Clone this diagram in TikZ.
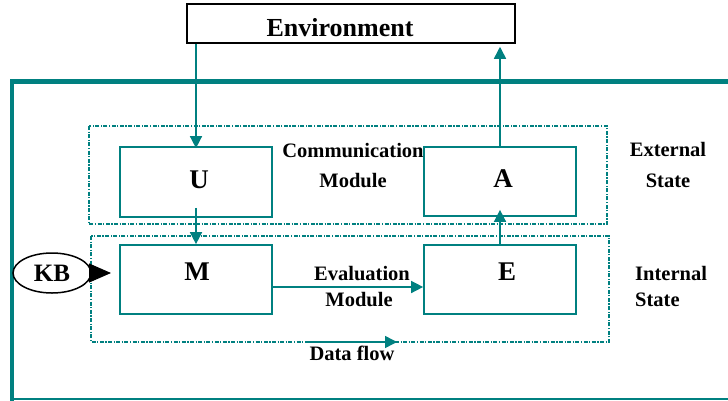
\documentclass[tikz,border=0pt]{standalone}
\usepackage{fontspec}
\setmainfont{Liberation Serif}
\usetikzlibrary{arrows.meta,shapes.geometric}
\definecolor{tl}{RGB}{0,128,128}
\tikzset{
  box/.style={draw=tl,line width=1.7pt,minimum width=152pt,minimum height=70pt,inner sep=0pt},
  grp/.style={draw=tl,line width=1.5pt,dash pattern=on 4pt off 1.5pt on 1.2pt off 1.5pt},
  conn/.style={draw=tl,line width=1.5pt,-{Triangle[length=12pt,width=12pt]}},
  lbl/.style={font=\fontsize{20.5}{24}\selectfont\bfseries,anchor=base,inner sep=0pt},
  big/.style={font=\fontsize{27}{30}\selectfont\bfseries,anchor=base,inner sep=0pt},
}
\begin{document}
\begin{tikzpicture}[x=1pt,y=-1pt]
\useasboundingbox (0,0) rectangle (728,400);
% outer frame
\draw[tl,line width=4.5pt] (730,81.5) -- (12,81.5) -- (12,402);
\draw[tl,line width=2pt] (12,398.5) -- (730,398.5);
% groups
\draw[grp] (89,126) rectangle (607,224);
\draw[grp] (91,236) rectangle (609,342);
% environment
\node[draw=black,line width=1.5pt,minimum width=328pt,minimum height=39pt,inner sep=0pt] (env) at (351,23.5) {};
\node[font=\fontsize{26}{30}\selectfont\bfseries,anchor=base,inner sep=0pt] (envt) at (340,36) {Environment};
% boxes
\node[box] (U) at (196,182) {};
\node[box,minimum height=69pt] (A) at (500,181.5) {};
\node[box,minimum height=69pt] (M) at (196,279.5) {};
\node[box,minimum height=69pt] (E) at (500,279.5) {};
\node[big] (Ut) at (199,188) {U};
\node[big] (At) at (503,187) {A};
\node[big] (Mt) at (197,280) {M};
\node[big] (Et) at (507,280) {E};
% labels
\node[lbl] (c1) at (353,157) {Communication};
\node[lbl] (c2) at (353,187) {Module};
\node[lbl] (x1) at (668,156) {External};
\node[lbl] (x2) at (668,187) {State};
\node[lbl] (v1) at (362,280) {Evaluation};
\node[lbl] (v2) at (359,306) {Module};
\node[lbl,anchor=base west] (i1) at (635,280) {Internal};
\node[lbl,anchor=base west] (i2) at (635,306) {State};
\node[lbl] (d1) at (352,360) {Data flow};
% KB
\node[draw=black,ellipse,line width=1.5pt,minimum width=78pt,minimum height=40pt,inner sep=0pt,font=\fontsize{25}{28}\selectfont\bfseries] (kb) at (52,273) {KB};
\coordinate (kbtip) at (111,273);
\draw[black,line width=1pt,-{Triangle[length=22pt,width=19pt]}] (kb.east) -- (kbtip);
% connectors
\draw[conn] (U.north |- env.south) -- ([yshift=-2pt]U.north);
\draw[conn,shorten >=3pt] (A.north) -- (A.north |- env.south);
\draw[conn] ([yshift=10pt]U.south) -- (M.north);
\draw[conn,shorten >=-7pt] (E.north) -- (A.south);
\draw[conn] ([yshift=-7.5pt]M.east) -- ([yshift=-7.5pt]E.west);
\coordinate (df1) at (308,342);
\coordinate (df2) at (397,342);
\draw[conn] (df1) -- (df2);
\end{tikzpicture}
\end{document}
